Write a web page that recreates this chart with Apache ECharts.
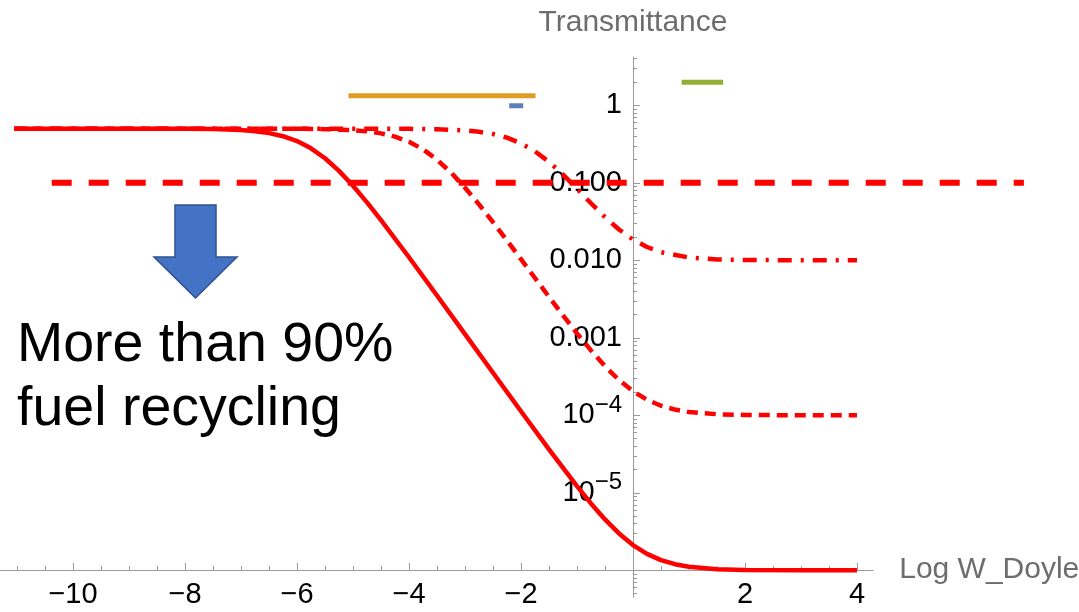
<!DOCTYPE html>
<html><head><meta charset="utf-8">
<script src="https://cdn.jsdelivr.net/npm/echarts@6/dist/echarts.min.js"></script>
<style>html,body{margin:0;padding:0;background:#fff}#c{width:1079px;height:612px}</style>
</head><body><div id="c"></div>
<script>
// ---- data ----
const xSolid = [-11.05, -9, -8, -7.5, -7, -6.75, -6.5, -6.25, -6, -5.75, -5.5, -5.25, -5, -4.75, -4.5, -4, -3.5, -3, -2.5, -2, -1.5, -1, -0.75, -0.5, -0.25, 0, 0.25, 0.5, 0.75, 1, 1.5, 2, 3, 4];
const tSolid = [0.5, 0.4998, 0.4978, 0.493, 0.4786, 0.4632, 0.4381, 0.3996, 0.3456, 0.2787, 0.2073, 0.1424, 0.0915, 0.0559, 0.033, 0.01095, 0.003513, 0.001117, 3.536e-4, 1.129e-4, 3.64e-5, 1.22e-5, 7.29e-6, 4.54e-6, 2.99e-6, 2.12e-6, 1.63e-6, 1.354e-6, 1.199e-6, 1.112e-6, 1.035e-6, 1.011e-6, 1.001e-6, 1.0e-6];

const xDashDot = [-11.05, -6, -5, -4.5, -4, -3.5, -3, -2.75, -2.5, -2.25, -2, -1.75, -1.5, -1.25, -1, -0.75, -0.5, -0.25, 0, 0.25, 0.5, 1, 1.5, 2, 3, 4];
const tDashDot = [0.5, 0.5, 0.4997, 0.4991, 0.4973, 0.4914, 0.4739, 0.4555, 0.426, 0.3823, 0.3237, 0.255, 0.1864, 0.1277, 0.084, 0.0545, 0.0361, 0.025, 0.01856, 0.01485, 0.01274, 0.01087, 0.01028, 0.01009, 0.01001, 0.01];

const xDashed = [-11.05, -7, -6, -5.5, -5, -4.75, -4.5, -4.25, -4, -3.75, -3.5, -3.25, -3, -2.75, -2.5, -2.25, -2, -1.75, -1.5, -1.25, -1, -0.75, -0.5, -0.25, 0, 0.25, 0.5, 0.75, 1, 1.5, 2, 3, 4];
const tDashed = [0.5001, 0.4999, 0.4977, 0.4926, 0.4773, 0.4609, 0.4343, 0.394, 0.3382, 0.2702, 0.199, 0.1355, 0.0865, 0.0527, 0.0311, 0.018, 0.01033, 0.005907, 0.003381, 0.001951, 0.001142, 6.87e-4, 4.3e-4, 2.856e-4, 2.045e-4, 1.587e-4, 1.33e-4, 1.186e-4, 1.104e-4, 1.033e-4, 1.01e-4, 1.001e-4, 1e-4];

const xThreshold = [-10.38, 6.98];
const tThreshold = 0.1;

const xOrange = [-5.08, -1.74]; const tOrange = 1.33;
const xBlue = [-2.21, -1.96];   const tBlue = 0.99;
const xGreen = [0.87, 1.61];    const tGreen = 1.98;

const xMajorTicks = [-10, -8, -6, -4, -2, 2, 4];
const xMinorTicks = [-11, -10.5, -9.5, -9, -8.5, -7.5, -7, -6.5, -5.5, -5, -4.5, -3.5, -3, -2.5, -1.5, -1, -0.5, 0.5, 1, 1.5, 2.5, 3, 3.5];
const yMajorTicks = [1e-5, 1e-4, 1e-3, 1e-2, 1e-1, 1];
const yTickLabels = ['{b|10}{s|\u22125}', '{b|10}{s|\u22124}', '0.001', '0.010', '0.100', '1'];
const yMinorMultipliers = [2, 3, 4, 5, 6, 7, 8, 9];
const yMinorDecades = [1e-7, 1e-6, 1e-5, 1e-4, 1e-3, 1e-2, 1e-1, 1];

const xMin = -11.3, xMax = 4.29, xMaxWide = 7.964, yMin = 4.5e-7, yMax = 4.2;

// ---- build ----
const zip = (xs, ts) => xs.map((x, i) => [x, ts[i]]);
const flat = (xs, t) => xs.map(x => [x, t]);
const yMinorTicks = [];
yMinorDecades.forEach(d => yMinorMultipliers.forEach(m => {
  const v = +(m * d).toPrecision(3);
  if (v >= yMin && v <= yMax) yMinorTicks.push(v);
}));

const RED = '#ff0000';
const AXIS = '#9a9a9a';
const FONT = '"Liberation Sans", Arial, sans-serif';

const chart = echarts.init(document.getElementById('c'), null, { renderer: 'canvas' });
chart.setOption({
  animation: false,
  backgroundColor: '#fff',
  textStyle: { fontFamily: FONT },
  grid: [
    { left: 0.2, right: 205.8, top: 57, bottom: 14.8, outerBoundsMode: 'none', containLabel: false },
    { left: 0.2, right: 0, top: 57, bottom: 14.8, outerBoundsMode: 'none', containLabel: false }
  ],
  xAxis: [{
    type: 'value', gridIndex: 0, min: xMin, max: xMax, position: 'bottom', offset: -27.2,
    splitLine: { show: false },
    axisLine: { onZero: false, lineStyle: { color: AXIS, width: 1 } },
    axisTick: { inside: true, length: 7, customValues: xMajorTicks, lineStyle: { color: AXIS } },
    axisLabel: { customValues: xMajorTicks, margin: 10, fontSize: 29, color: '#000', fontFamily: FONT,
      formatter: v => String(v).replace('-', '\u2212') },
    name: 'Log W_Doyle', nameLocation: 'end', nameGap: 26,
    nameTextStyle: { fontSize: 30, color: '#6d6d6d', fontFamily: FONT, align: 'left', verticalAlign: 'middle' }
  }, {
    type: 'value', gridIndex: 0, min: xMin, max: xMax, position: 'top', offset: -513,
    splitLine: { show: false },
    axisLine: { show: false, onZero: false },
    axisLabel: { show: false },
    axisTick: { inside: false, length: 4, customValues: xMinorTicks, lineStyle: { color: AXIS } }
  }, {
    type: 'value', gridIndex: 1, min: xMin, max: xMaxWide, show: false
  }],
  yAxis: [{
    type: 'log', gridIndex: 0, logBase: 10, min: yMin, max: yMax, position: 'left', offset: -632.8,
    splitLine: { show: false },
    axisLine: { onZero: false, lineStyle: { color: AXIS, width: 1 } },
    axisTick: { inside: true, length: 7, customValues: yMajorTicks, lineStyle: { color: AXIS } },
    axisLabel: {
      customValues: yMajorTicks, margin: 11, fontSize: 29, color: '#000', fontFamily: FONT,
      formatter: v => {
        const i = yMajorTicks.findIndex(t => Math.abs(Math.log10(t) - Math.log10(v)) < 1e-6);
        return i >= 0 ? yTickLabels[i] : '';
      },
      rich: {
        b: { fontSize: 29, color: '#000', fontFamily: FONT },
        s: { fontSize: 24, color: '#000', fontFamily: FONT, padding: [0, 0, 20, 0] }
      }
    },
    name: 'Transmittance', nameLocation: 'end', nameGap: 19,
    nameTextStyle: { fontSize: 30, color: '#6d6d6d', fontFamily: FONT }
  }, {
    type: 'log', gridIndex: 0, logBase: 10, min: yMin, max: yMax, position: 'right', offset: -240.2,
    splitLine: { show: false },
    axisLine: { show: false, onZero: false },
    axisLabel: { show: false },
    axisTick: { inside: false, length: 4, customValues: yMinorTicks, lineStyle: { color: AXIS } }
  }, {
    type: 'log', gridIndex: 1, logBase: 10, min: yMin, max: yMax, show: false
  }],
  series: [
    { type: 'line', name: 'threshold', xAxisIndex: 2, yAxisIndex: 2, data: flat(xThreshold, tThreshold), symbol: 'none', silent: true,
      lineStyle: { color: RED, width: 6, type: [20, 17], cap: 'butt' }, z: 3 },
    { type: 'line', name: 'dashdot', data: zip(xDashDot, tDashDot), symbol: 'none',
      lineStyle: { color: RED, width: 4.5, type: [14, 9, 3, 9], cap: 'butt', join: 'round' }, z: 2 },
    { type: 'line', name: 'dashed', data: zip(xDashed, tDashed), symbol: 'none',
      lineStyle: { color: RED, width: 4.5, type: [11, 7], cap: 'butt', join: 'round' }, z: 2 },
    { type: 'line', name: 'solid', data: zip(xSolid, tSolid), symbol: 'none',
      lineStyle: { color: RED, width: 4.5, join: 'round' }, z: 2 },
    { type: 'line', name: 'orange', data: flat(xOrange, tOrange), symbol: 'none', lineStyle: { color: '#E19C24', width: 5, cap: 'butt' } },
    { type: 'line', name: 'blue', data: flat(xBlue, tBlue), symbol: 'none', lineStyle: { color: '#5E81B5', width: 5, cap: 'butt' } },
    { type: 'line', name: 'green', data: flat(xGreen, tGreen), symbol: 'none', lineStyle: { color: '#8FB032', width: 5, cap: 'butt' } }
  ],
  graphic: [
    { type: 'polygon', z: 10,
      shape: { points: [[175, 205], [216, 205], [216, 257], [237, 257], [195.5, 298], [154, 257], [175, 257]] },
      style: { fill: '#4472C4', stroke: '#2F528F', lineWidth: 1.5 } },
    { type: 'text', z: 10, left: 17, top: 314,
      style: { text: 'More than 90%\nfuel recycling', fontSize: 55.5, fontFamily: FONT, fill: '#000', lineHeight: 64 } }
  ]
});
</script>
</body></html>
